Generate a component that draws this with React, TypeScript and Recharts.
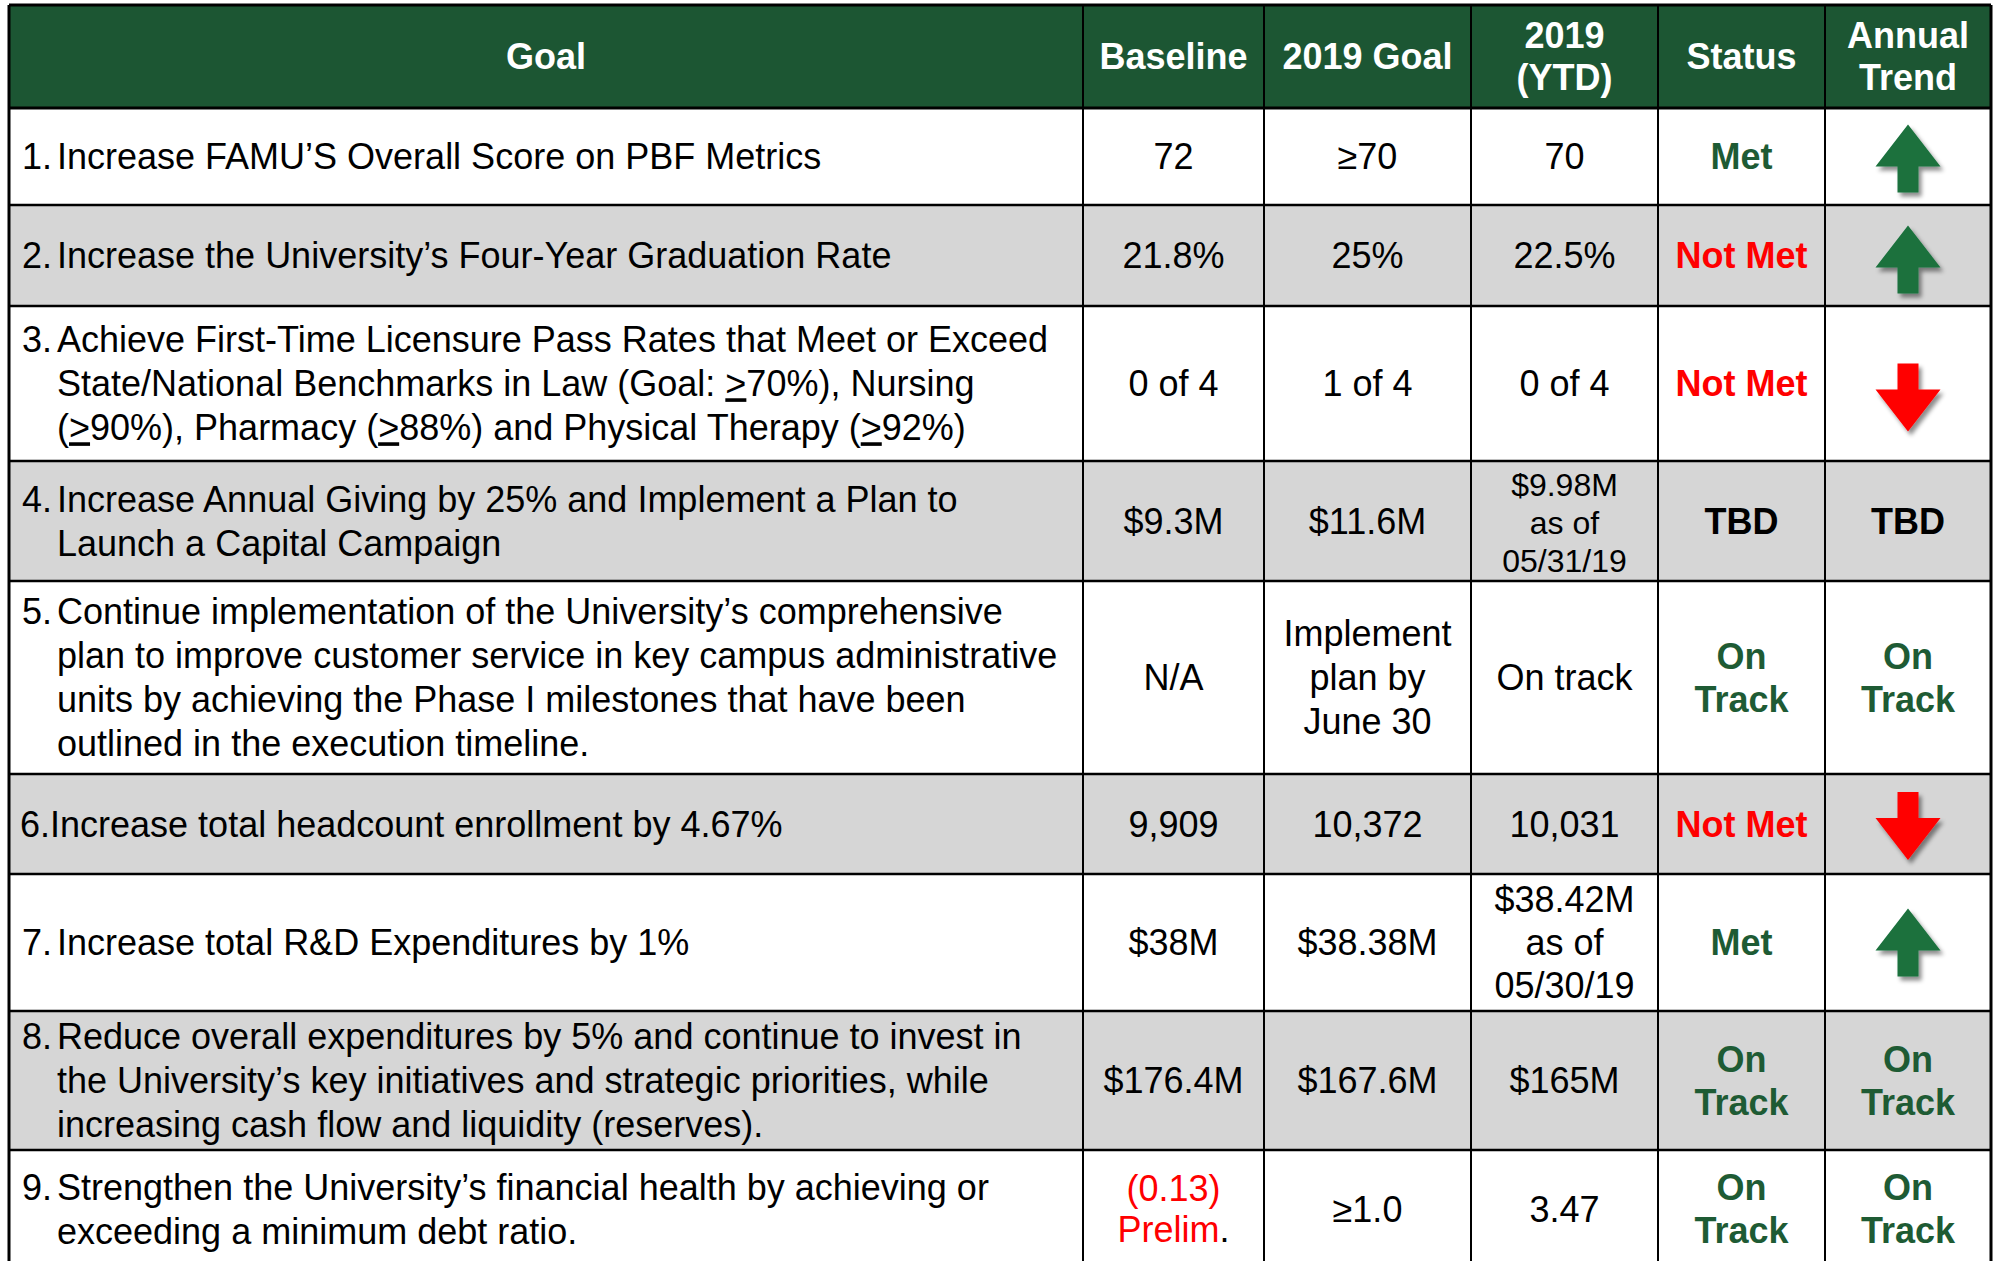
import React from "react";
import { ComposedChart, XAxis, YAxis, Scatter, Customized } from "recharts";

const W = 1995;
const H = 1261;

// table content
const headers = [["Goal"], ["Baseline"], ["2019 Goal"], ["2019", "(YTD)"], ["Status"], ["Annual", "Trend"]];

const goalNumbers = ["1.", "2.", "3.", "4.", "5.", "", "7.", "8.", "9."];
const goalLines = [
  ["Increase FAMU\u2019S Overall Score on PBF Metrics"],
  ["Increase the University\u2019s Four-Year Graduation Rate"],
  [
    "Achieve First-Time Licensure Pass Rates that Meet or Exceed",
    "State/National Benchmarks in Law (Goal: \u226570%), Nursing",
    "(\u226590%), Pharmacy (\u226588%) and Physical Therapy (\u226592%)",
  ],
  ["Increase Annual Giving by 25% and Implement a Plan to", "Launch a Capital Campaign"],
  [
    "Continue implementation of the University\u2019s comprehensive",
    "plan to improve customer service in key campus administrative",
    "units by achieving the Phase I milestones that have been",
    "outlined in the execution timeline.",
  ],
  ["6.Increase total headcount enrollment by 4.67%"],
  ["Increase total R&D Expenditures by 1%"],
  [
    "Reduce overall expenditures by 5% and continue to invest in",
    "the University\u2019s key initiatives and strategic priorities, while",
    "increasing cash flow and liquidity (reserves).",
  ],
  ["Strengthen the University\u2019s financial health by achieving or", "exceeding a minimum debt ratio."],
];

const baselineValues = [["72"], ["21.8%"], ["0 of 4"], ["$9.3M"], ["N/A"], ["9,909"], ["$38M"], ["$176.4M"], ["(0.13)", "Prelim."]];
const goal2019Values = [["\u226570"], ["25%"], ["1 of 4"], ["$11.6M"], ["Implement", "plan by", "June 30"], ["10,372"], ["$38.38M"], ["$167.6M"], ["\u22651.0"]];
const ytdValues = [["70"], ["22.5%"], ["0 of 4"], ["$9.98M", "as of", "05/31/19"], ["On track"], ["10,031"], ["$38.42M", "as of", "05/30/19"], ["$165M"], ["3.47"]];
const statusValues = ["Met", "Not Met", "Not Met", "TBD", "On Track", "Not Met", "Met", "On Track", "On Track"];
const trendValues = ["up", "up", "down", "TBD", "On Track", "down", "up", "On Track", "On Track"];

// layout
const colEdges = [9, 1083, 1264, 1471, 1658, 1825, 1991];
const rowEdges = [5, 108, 205, 306, 461, 581, 774, 874, 1011, 1150, 1268];
// vertical nudge of the arrow inside each row (row 3 sits a little low on the slide)
const arrowNudge = [2, 4, 14, 0, 0, 2, 0, 0, 0];

const FONT = "'Liberation Sans', Arial, Helvetica, sans-serif";
const FS = 36;
const LH = 43.5;
const HEADER_BG = "#1C5633";
const ROW_GRAY = "#D6D6D6";
const GREEN_TEXT = "#1E5B34";
const ARROW_GREEN = "#1A713D";
const RED = "#FF0000";

const colCenter = (c: number) => (colEdges[c] + colEdges[c + 1]) / 2;
const rowCenter = (r: number) => (rowEdges[r] + rowEdges[r + 1]) / 2;

const statusColor = (s: string) => {
  if (s === "Met" || s === "On Track") return GREEN_TEXT;
  if (s === "Not Met") return RED;
  return "#000";
};

// split status words onto two lines like the slide
const statusLines = (s: string) => (s === "On Track" ? ["On", "Track"] : [s]);

function CellText({ x, cy, lines, size = FS, lh = LH, anchor = "middle", weight = 400, fill = "#000" }: any) {
  const n = lines.length;
  return (
    <>
      {lines.map((ln: React.ReactNode, i: number) => (
        <text
          key={i}
          x={x}
          y={cy + (i - (n - 1) / 2) * lh + size * 0.355}
          textAnchor={anchor}
          fontFamily={FONT}
          fontSize={size}
          fontWeight={weight}
          fill={fill}
        >
          {ln}
        </text>
      ))}
    </>
  );
}

// ">" underlined is used in the goal text for "greater or equal"
function goalLine(s: string) {
  const parts = s.split("\u2265");
  return parts.map((p, i) => (
    <React.Fragment key={i}>
      {i > 0 && <tspan style={{ textDecoration: "underline" }}>{">"}</tspan>}
      {p}
    </React.Fragment>
  ));
}

function TableLayer() {
  const left = colEdges[0];
  const right = colEdges[colEdges.length - 1];
  return (
    <g>
      <defs>
        <filter id="arrowShadow" x="-30%" y="-30%" width="170%" height="170%">
          <feDropShadow dx="3" dy="4" stdDeviation="2" floodColor="#000" floodOpacity="0.45" />
        </filter>
      </defs>
      <rect x={0} y={0} width={W} height={H} fill="#fff" />
      {/* header */}
      <rect x={left} y={rowEdges[0]} width={right - left} height={rowEdges[1] - rowEdges[0]} fill={HEADER_BG} />
      {/* zebra rows */}
      {goalLines.map((_, i) =>
        i % 2 === 1 ? (
          <rect key={i} x={left} y={rowEdges[i + 1]} width={right - left} height={rowEdges[i + 2] - rowEdges[i + 1]} fill={ROW_GRAY} />
        ) : null
      )}
      {/* grid */}
      {rowEdges.slice(0, -1).map((y, i) => (
        <line key={"h" + i} x1={left} x2={right} y1={y} y2={y} stroke="#000" strokeWidth={i <= 1 ? 3 : 2.5} />
      ))}
      {colEdges.map((x, i) => (
        <line key={"v" + i} x1={x} x2={x} y1={rowEdges[0]} y2={H} stroke="#000" strokeWidth={i === 0 || i === colEdges.length - 1 ? 3 : 2} />
      ))}

      {/* header text */}
      {headers.map((h, c) => (
        <CellText key={"hd" + c} x={colCenter(c)} cy={rowCenter(0)} lines={h} weight={700} fill="#fff" lh={42} />
      ))}

      {/* goals */}
      {goalLines.map((lines, i) => {
        const r = i + 1;
        const num = goalNumbers[i];
        const tx = num ? 57 : 20;
        return (
          <g key={"g" + i}>
            {num && <CellText x={22} cy={rowCenter(r) - ((lines.length - 1) / 2) * 44} lines={[num]} anchor="start" />}
            <CellText x={tx} cy={rowCenter(r)} lines={lines.map(goalLine)} anchor="start" lh={44} />
          </g>
        );
      })}

      {/* baseline */}
      {baselineValues.map((v, i) => {
        const neg = v[0].startsWith("(");
        const lines = neg
          ? v.map((s) =>
              s.endsWith(".") ? (
                <>
                  {s.slice(0, -1)}
                  <tspan fill="#000">.</tspan>
                </>
              ) : (
                s
              )
            )
          : v;
        return <CellText key={"b" + i} x={colCenter(1)} cy={rowCenter(i + 1)} lines={lines} fill={neg ? RED : "#000"} lh={41} />;
      })}

      {/* 2019 goal */}
      {goal2019Values.map((v, i) => (
        <CellText key={"t" + i} x={colCenter(2)} cy={rowCenter(i + 1)} lines={v} lh={44} />
      ))}

      {/* 2019 YTD */}
      {ytdValues.map((v, i) => {
        const tight = rowEdges[i + 2] - rowEdges[i + 1] < 125 && v.length > 2;
        return (
          <CellText
            key={"y" + i}
            x={colCenter(3)}
            cy={rowCenter(i + 1) + (tight ? 2 : 0)}
            lines={v}
            size={tight ? 32 : FS}
            lh={tight ? 38 : 43}
          />
        );
      })}

      {/* status */}
      {statusValues.map((s, i) => (
        <CellText key={"s" + i} x={colCenter(4)} cy={rowCenter(i + 1)} lines={statusLines(s)} weight={700} fill={statusColor(s)} lh={43} />
      ))}

      {/* trend text (arrows are drawn by the scatter) */}
      {trendValues.map((t, i) =>
        t === "up" || t === "down" ? null : (
          <CellText key={"tr" + i} x={colCenter(5)} cy={rowCenter(i + 1)} lines={statusLines(t)} weight={700} fill={statusColor(t)} lh={43} />
        )
      )}
    </g>
  );
}

const arrowData = trendValues
  .map((t, i) => ({ x: colCenter(5), y: rowCenter(i + 1) + arrowNudge[i], dir: t }))
  .filter((d) => d.dir === "up" || d.dir === "down");

function TrendArrow(props: any) {
  const { cx, cy, payload } = props;
  if (cx == null || cy == null) return null;
  const up = payload.dir === "up";
  const s = up ? 1 : -1;
  const tip = cy - 34 * s;
  const base = cy + 8 * s;
  const tail = cy + 34 * s;
  const hw = 32.5;
  const sw = 10.5;
  const pts = [
    [cx, tip],
    [cx + hw, base],
    [cx + sw, base],
    [cx + sw, tail],
    [cx - sw, tail],
    [cx - sw, base],
    [cx - hw, base],
  ]
    .map((p) => p.join(","))
    .join(" ");
  return <polygon points={pts} fill={up ? ARROW_GREEN : RED} filter="url(#arrowShadow)" />;
}

export default function App() {
  return (
    <div style={{ position: "absolute", left: 0, top: 0, width: W, height: H, overflow: "hidden", background: "#fff" }}>
      <ComposedChart width={W} height={H} data={arrowData} margin={{ top: 0, right: 0, bottom: 0, left: 0 }}>
        <XAxis type="number" dataKey="x" domain={[0, W]} hide allowDataOverflow />
        <YAxis type="number" dataKey="y" domain={[0, H]} reversed hide allowDataOverflow />
        <Customized component={<TableLayer />} />
        <Scatter data={arrowData} dataKey="y" shape={<TrendArrow />} isAnimationActive={false} />
      </ComposedChart>
    </div>
  );
}
